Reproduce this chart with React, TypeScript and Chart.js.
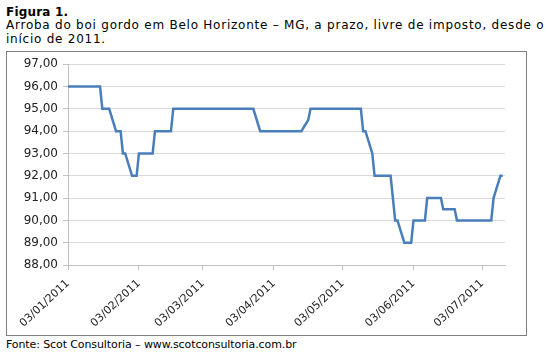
import React, { useEffect, useRef } from "react";
import { Chart, registerables } from "chart.js";

Chart.register(...registerables);

// Dates (dd/mm/yyyy) where the price series changes direction, and the price (R$/@)
const dates = [
  "03/01/2011", "17/01/2011", "18/01/2011", "21/01/2011", "24/01/2011",
  "26/01/2011", "27/01/2011", "28/01/2011", "31/01/2011", "02/02/2011",
  "03/02/2011", "09/02/2011", "10/02/2011", "17/02/2011", "18/02/2011",
  "25/03/2011", "28/03/2011", "15/04/2011", "18/04/2011", "19/04/2011",
  "11/05/2011", "12/05/2011", "13/05/2011", "16/05/2011", "17/05/2011",
  "24/05/2011", "26/05/2011", "27/05/2011", "30/05/2011", "02/06/2011",
  "03/06/2011", "08/06/2011", "09/06/2011", "15/06/2011", "16/06/2011",
  "21/06/2011", "22/06/2011", "07/07/2011", "08/07/2011", "11/07/2011",
  "12/07/2011",
];
const prices = [
  96, 96, 95, 95, 94,
  94, 93, 93, 92, 92,
  93, 93, 94, 94, 95,
  95, 94, 94, 94.5, 95,
  95, 94, 94, 93, 92,
  92, 90, 90, 89, 89,
  90, 90, 91, 91, 90.5,
  90.5, 90, 90, 91, 92,
  92,
];
const tickLabels = [
  "03/01/2011", "03/02/2011", "03/03/2011", "03/04/2011",
  "03/05/2011", "03/06/2011", "03/07/2011",
];
const axisStart = "03/01/2011";
const axisEnd = "13/07/2011";
const yMin = 88;
const yMax = 97;

function toUTC(s: string): number {
  const [d, m, y] = s.split("/").map(Number);
  return Date.UTC(y, m - 1, d);
}
function dayIndex(s: string): number {
  return Math.round((toUTC(s) - toUTC(axisStart)) / 86400000);
}

const FONT = "'DejaVu Sans', Verdana, sans-serif";

export default function App() {
  const ref = useRef<HTMLCanvasElement | null>(null);

  useEffect(() => {
    if (!ref.current) return;
    const chart = new Chart(ref.current, {
      type: "line",
      data: {
        datasets: [
          {
            data: dates.map((d, i) => ({ x: dayIndex(d), y: prices[i] })),
            borderColor: "#4A7EBB",
            borderWidth: 2.5,
            pointRadius: 0,
            tension: 0,
            fill: false,
          },
        ],
      },
      options: {
        animation: false,
        responsive: false,
        layout: { padding: { top: 11, right: 21, left: 0, bottom: 0 } },
        plugins: { legend: { display: false }, tooltip: { enabled: false } },
        scales: {
          x: {
            type: "linear",
            min: dayIndex(axisStart),
            max: dayIndex(axisEnd),
            afterBuildTicks: (s: any) => {
              s.ticks = tickLabels.map((l) => ({ value: dayIndex(l) }));
            },
            afterFit: (s: any) => {
              s.height = 70;
            },
            ticks: {
              autoSkip: false,
              minRotation: 43,
              maxRotation: 43,
              padding: 7,
              color: "#222",
              font: { family: FONT, size: 11 },
              callback: (_v: any, i: number) => tickLabels[i],
            },
            grid: {
              drawOnChartArea: false,
              drawTicks: true,
              tickLength: 5,
              color: "#BFBFBF",
            },
            border: { display: true, color: "#BFBFBF" },
          },
          y: {
            min: yMin,
            max: yMax,
            afterFit: (s: any) => {
              s.width = 61;
            },
            ticks: {
              stepSize: 1,
              padding: 5,
              color: "#222",
              font: { family: FONT, size: 12 },
              callback: (v: any) => Number(v).toFixed(2).replace(".", ","),
            },
            grid: {
              color: "#D9D9D9",
              tickColor: "#BFBFBF",
              tickLength: 5,
            },
            border: { display: true, color: "#BFBFBF" },
          },
        },
      },
    });
    return () => chart.destroy();
  }, []);

  const line = (
    top: number,
    size: number,
    bold = false,
    spacing = 0
  ): React.CSSProperties => ({
    position: "absolute",
    left: 6,
    top,
    fontSize: size,
    lineHeight: 1,
    fontWeight: bold ? "bold" : "normal",
    whiteSpace: "nowrap",
    letterSpacing: spacing,
    color: "#000",
  });

  return (
    <div
      style={{
        position: "absolute",
        left: 0,
        top: 0,
        width: 547,
        height: 354,
        background: "#fff",
        fontFamily: FONT,
        overflow: "hidden",
      }}
    >
      <div style={line(5.5, 12, true, 0.2)}>Figura 1.</div>
      <div style={line(18.5, 12, false, 0.76)}>
        Arroba do boi gordo em Belo Horizonte – MG, a prazo, livre de imposto, desde o
      </div>
      <div style={line(33.1, 12, false, 0.76)}>início de 2011.</div>
      <div
        style={{
          position: "absolute",
          left: 6,
          top: 51,
          width: 521,
          height: 285,
          boxSizing: "border-box",
          border: "1px solid #808080",
        }}
      >
        <canvas ref={ref} width={519} height={283} style={{ display: "block" }} />
      </div>
      <div style={line(339, 11, false, -0.1)}>
        Fonte: Scot Consultoria – www.scotconsultoria.com.br
      </div>
    </div>
  );
}
